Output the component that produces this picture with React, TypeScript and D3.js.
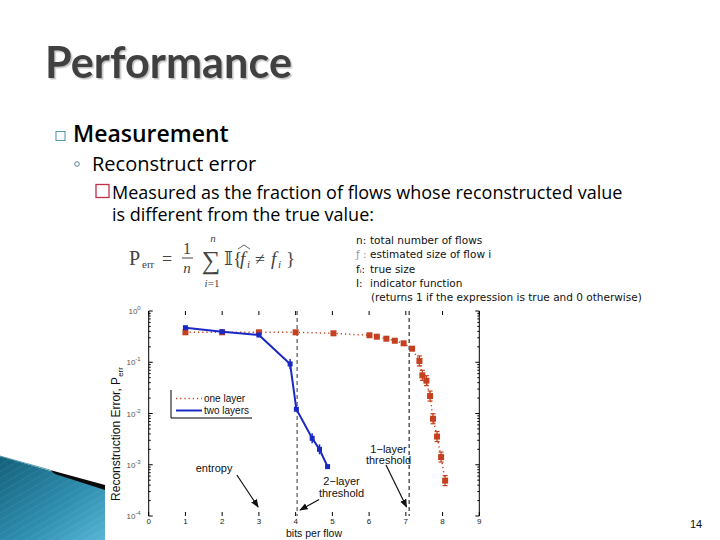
import React from "react";
import * as d3 from "d3";

// ---- data ----
const twoLayerX = [1, 2, 3, 3.85, 4.02, 4.45, 4.65, 4.87];
const twoLayerY = [0.472, 0.394, 0.34, 0.0925, 0.0121, 0.00328, 0.002, 0.00092];
const twoLayerErr = [false, false, false, true, false, true, true, false];

const oneLayerX = [1, 2, 3, 4, 5.03, 6.01, 6.21, 6.47, 6.7, 6.94, 7.17, 7.37, 7.45, 7.56, 7.66, 7.74, 7.85, 7.96, 8.07];
const oneLayerY = [0.384, 0.384, 0.384, 0.384, 0.367, 0.336, 0.315, 0.288, 0.263, 0.234, 0.184, 0.106, 0.0556, 0.0437, 0.0219, 0.0079, 0.00355, 0.00141, 0.00049];
const oneLayerErr = [false, false, false, false, false, false, false, false, false, false, false, true, true, true, true, true, true, true, true];

const xTicks = [0, 1, 2, 3, 4, 5, 6, 7, 8, 9];
const yTicks = [1, 0.1, 0.01, 0.001, 0.0001];
const yTickExp = ["0", "-1", "-2", "-3", "-4"];
const thresholds = [4.04, 7.09];

const legendLabels = ["one layer", "two layers"];
const defsText = [
  ["n:", "total number of flows"],
  ["ƒ :", "estimated size of flow i"],
  ["fᵢ:", "true size"],
  ["I:", "indicator function"],
  ["", "(returns 1 if the expression is true and 0 otherwise)"],
];

const annotations = [
  { lines: ["entropy"], x: 1.78, y: 7.2e-4, from: [2.4, 6.3e-4], to: [2.98, 1.5e-4] },
  { lines: ["2\u2212layer", "threshold"], x: 5.25, y: 4.0e-4, from: [4.64, 2.1e-4], to: [4.12, 1.31e-4] },
  { lines: ["1\u2212layer", "threshold"], x: 6.53, y: 1.7e-3, from: [6.46, 9.9e-4], to: [7.02, 1.5e-4] },
];

const RED = "#c4401f";
const BLUE = "#1a28c4";

export default function App() {
  const x = d3.scaleLinear().domain([0, 9]).range([148.7, 479.3]);
  const y = d3.scaleLog().domain([1e-4, 1]).range([516, 311]);
  const [x0, x1] = x.range();
  const yTop = 311, yBot = 516;

  const blueLine = d3.line<number>().x((d, i) => x(twoLayerX[i])).y((d) => y(d))(twoLayerY) || "";
  const redLine = d3.line<number>().x((d, i) => x(oneLayerX[i])).y((d) => y(d))(oneLayerY) || "";

  const minorTicks: number[] = [];
  for (let e = -4; e < 0; e++) for (let m = 2; m <= 9; m++) minorTicks.push(m * Math.pow(10, e));

  const sans = "'Liberation Sans', Arial, sans-serif";
  const body = "'Open Sans', sans-serif";
  const serif = "'Liberation Serif', 'DejaVu Serif', serif";

  return (
    <svg width={720} height={540} style={{ position: "absolute", left: 0, top: 0, background: "#fff" }}>
      <defs>
        <linearGradient id="wedge" x1="0" y1="0" x2="1" y2="1">
          <stop offset="0" stopColor="#14607a" />
          <stop offset="0.6" stopColor="#2f8fb0" />
          <stop offset="1" stopColor="#57b4d4" />
        </linearGradient>
        <pattern id="hatch" width="6" height="6" patternUnits="userSpaceOnUse" patternTransform="rotate(60)">
          <line x1="0" y1="0" x2="0" y2="6" stroke="#ffffff" strokeOpacity="0.12" strokeWidth="1" />
        </pattern>
        <marker id="arr" viewBox="0 0 10 10" refX="9" refY="5" markerWidth="7" markerHeight="7" orient="auto">
          <path d="M0,1 L10,5 L0,9 z" fill="#111" />
        </marker>
        <filter id="shadow" x="-5%" y="-10%" width="115%" height="130%">
          <feDropShadow dx="1.5" dy="1.5" stdDeviation="0.6" floodColor="#9a9a9a" floodOpacity="0.6" />
        </filter>
      </defs>

      {/* bottom-left decoration */}
      <path d="M0,456 L105,487 L105,540 L0,540 Z" fill="url(#wedge)" />
      <path d="M0,456 L105,487 L105,540 L0,540 Z" fill="url(#hatch)" />
      <path d="M50,470 L105,485 L105,490 L55,474 Z" fill="#0a0a0a" />
      <path d="M0,456 L50,470" stroke="#5e9fb5" strokeWidth={1} />

      {/* title */}
      <text x={45} y={78} fontFamily="Lato, sans-serif" fontWeight={700} fontSize={44} fill="#404040"
        textLength={247} lengthAdjust="spacingAndGlyphs" filter="url(#shadow)">Performance</text>

      {/* bullets */}
      <rect x={56} y={131.5} width={9} height={9} fill="none" stroke="#4a96a4" strokeWidth={1} />
      <text x={73} y={142} fontFamily={body} fontWeight={600} fontSize={23} fill="#000">Measurement</text>
      <circle cx={77} cy={164} r={2.3} fill="none" stroke="#5d7f8e" strokeWidth={1} />
      <text x={92} y={171} fontFamily={body} fontSize={20} fill="#000">Reconstruct error</text>
      <rect x={96} y={184.5} width={13} height={13} fill="none" stroke="#c03048" strokeWidth={1.3} />
      <text x={112} y={199} fontFamily={body} fontSize={18} fill="#000">Measured as the fraction of flows whose reconstructed value</text>
      <text x={112} y={221} fontFamily={body} fontSize={18} fill="#000">is different from the true value:</text>

      {/* formula */}
      <g fontFamily={serif} fill="#444">
        <text x={129} y={265} fontSize={20}>P</text>
        <text x={142} y={268} fontSize={11}>err</text>
        <text x={162} y={265} fontSize={18}>=</text>
        <text x={187} y={254} fontSize={16} textAnchor="middle">1</text>
        <line x1={182} x2={193} y1={258} y2={258} stroke="#444" strokeWidth={1} />
        <text x={187} y={273} fontSize={15} fontStyle="italic" textAnchor="middle">n</text>
        <text x={211} y={269} fontSize={26} textAnchor="middle">∑</text>
        <text x={213} y={242} fontSize={11} fontStyle="italic" textAnchor="middle">n</text>
        <text x={212} y={287} fontSize={11} textAnchor="middle"><tspan fontStyle="italic">i</tspan>=1</text>
        <text x={224} y={265} fontSize={19}>{"𝕀{"}</text>
        <text x={240} y={265} fontSize={19} fontStyle="italic">f</text>
        <text x={247} y={268} fontSize={11} fontStyle="italic">i</text>
        <path d="M238,249 L244,245 L250,249" fill="none" stroke="#444" strokeWidth={0.8} />
        <text x={255} y={265} fontSize={18}>≠</text>
        <text x={271} y={265} fontSize={19} fontStyle="italic">f</text>
        <text x={278} y={268} fontSize={11} fontStyle="italic">i</text>
        <text x={286} y={265} fontSize={19}>{"}"}</text>
      </g>

      {/* definitions */}
      <g fontFamily="'DejaVu Sans', sans-serif" fontSize={10.5} fill="#111">
        {defsText.map((d, i) => (
          <g key={i}>
            <text x={356} y={244 + i * 14.3} fill={i === 1 ? "#999" : "#111"}>{d[0]}</text>
            <text x={i === 4 ? 371 : 370} y={244 + i * 14.3}>{d[1]}</text>
          </g>
        ))}
      </g>

      {/* axes */}
      <g stroke="#000" strokeWidth={1}>
        <line x1={x0} x2={x0} y1={yTop} y2={yBot} />
        <line x1={x1} x2={x1} y1={yTop} y2={yBot} />
        {yTicks.map((t) => (
          <g key={t}>
            <line x1={x0} x2={x0 + 4} y1={y(t)} y2={y(t)} />
            <line x1={x1} x2={x1 - 4} y1={y(t)} y2={y(t)} />
          </g>
        ))}
        {minorTicks.map((t) => (
          <g key={t}>
            <line x1={x0} x2={x0 + 2} y1={y(t)} y2={y(t)} />
            <line x1={x1} x2={x1 - 2} y1={y(t)} y2={y(t)} />
          </g>
        ))}
        {xTicks.map((t) => (
          <g key={t}>
            <line x1={x(t)} x2={x(t)} y1={yTop} y2={yTop + 4} />
            <line x1={x(t)} x2={x(t)} y1={yBot} y2={yBot - 4} />
          </g>
        ))}
      </g>
      <g fontFamily={sans} fontSize={8} fill="#555">
        {yTicks.map((t, i) => (
          <text key={t} x={x0 - 8} y={y(t) + 3} textAnchor="end">
            10<tspan dy={-4} fontSize={6}>{yTickExp[i]}</tspan>
          </text>
        ))}
        {xTicks.map((t) => (
          <text key={t} x={x(t)} y={yBot + 7.5} textAnchor="middle" fill="#222">{t}</text>
        ))}
      </g>
      <text x={314} y={537} textAnchor="middle" fontFamily={sans} fontSize={10.5} fill="#111">bits per flow</text>
      <text transform="translate(120,434) rotate(-90)" textAnchor="middle" fontFamily={sans} fontSize={12} fill="#111">
        Reconstruction Error, P<tspan dy={3} fontSize={8}>err</tspan>
      </text>

      {/* threshold lines */}
      {thresholds.map((t, i) => (
        <line key={t} x1={x(t)} x2={x(t)} y1={yTop} y2={yBot} stroke={i === 0 ? "#333" : "#000"} strokeWidth={1} strokeDasharray="4,3" />
      ))}

      {/* one layer */}
      <path d={redLine} fill="none" stroke={RED} strokeWidth={1.5} strokeDasharray="1.2,3" />
      {oneLayerY.map((v, i) => (
        <g key={i}>
          {oneLayerErr[i] && (
            <g stroke={RED} strokeWidth={1.2}>
              <line x1={x(oneLayerX[i])} x2={x(oneLayerX[i])} y1={y(v) - 5} y2={y(v) + 5} />
              <line x1={x(oneLayerX[i]) - 2.5} x2={x(oneLayerX[i]) + 2.5} y1={y(v) - 5} y2={y(v) - 5} />
              <line x1={x(oneLayerX[i]) - 2.5} x2={x(oneLayerX[i]) + 2.5} y1={y(v) + 5} y2={y(v) + 5} />
            </g>
          )}
          <rect x={x(oneLayerX[i]) - 3} y={y(v) - 3} width={6} height={6} fill={RED} />
        </g>
      ))}

      {/* two layers */}
      <path d={blueLine} fill="none" stroke={BLUE} strokeWidth={2} />
      {twoLayerY.map((v, i) => (
        <g key={i}>
          {twoLayerErr[i] && (
            <line x1={x(twoLayerX[i])} x2={x(twoLayerX[i])} y1={y(v) - 5} y2={y(v) + 5} stroke={BLUE} strokeWidth={1.5} />
          )}
          <rect x={x(twoLayerX[i]) - 2.5} y={y(v) - 2.5} width={5} height={5} fill={BLUE} />
        </g>
      ))}

      {/* legend */}
      <g>
        <line x1={171} x2={171} y1={390} y2={418} stroke="#000" strokeWidth={1} />
        <line x1={171} x2={252} y1={418} y2={418} stroke="#000" strokeWidth={1} />
        <line x1={176} x2={202} y1={398.5} y2={398.5} stroke={RED} strokeWidth={1.5} strokeDasharray="1.2,3" />
        <line x1={176} x2={202} y1={410.5} y2={410.5} stroke={BLUE} strokeWidth={2} />
        {legendLabels.map((l, i) => (
          <text key={l} x={204} y={402 + i * 12} fontFamily={sans} fontSize={10} fill="#111">{l}</text>
        ))}
      </g>

      {/* annotations */}
      {annotations.map((a, i) => (
        <g key={i}>
          {a.lines.map((ln, j) => (
            <text key={j} x={x(a.x)} y={y(a.y) + j * 11.5} textAnchor="middle" fontFamily={sans} fontSize={11} fill="#111">{ln}</text>
          ))}
          <line x1={x(a.from[0])} y1={y(a.from[1])} x2={x(a.to[0])} y2={y(a.to[1])} stroke="#111" strokeWidth={1.2} markerEnd="url(#arr)" />
        </g>
      ))}

      {/* page number */}
      <text x={696} y={528} textAnchor="middle" fontFamily={sans} fontSize={11} fill="#111">14</text>
    </svg>
  );
}
